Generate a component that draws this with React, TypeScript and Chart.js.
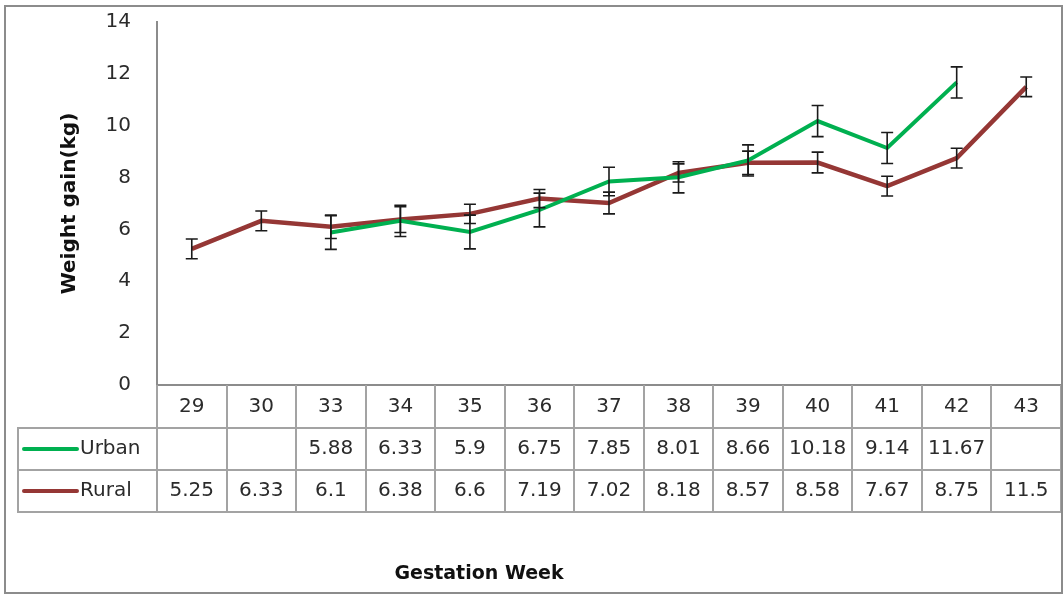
import React, { useEffect, useRef } from "react";
import { Chart, registerables } from "chart.js";

Chart.register(...registerables);

const weeks = ["29", "30", "33", "34", "35", "36", "37", "38", "39", "40", "41", "42", "43"];
const urban: (number | null)[] = [null, null, 5.88, 6.33, 5.9, 6.75, 7.85, 8.01, 8.66, 10.18, 9.14, 11.67, null];
const rural: (number | null)[] = [5.25, 6.33, 6.1, 6.38, 6.6, 7.19, 7.02, 8.18, 8.57, 8.58, 7.67, 8.75, 11.5];
const urbanErr: (number | null)[] = [null, null, 0.65, 0.6, 0.65, 0.65, 0.55, 0.6, 0.6, 0.6, 0.6, 0.6, null];
const ruralErr: (number | null)[] = [0.38, 0.38, 0.45, 0.5, 0.37, 0.35, 0.42, 0.35, 0.45, 0.4, 0.38, 0.38, 0.38];
const yTicks = [0, 2, 4, 6, 8, 10, 12, 14];

const seriesNames = ["Urban", "Rural"];
const seriesColors = ["#00B050", "#953735"];
const xTitle = "Gestation Week";
const yTitle = "Weight gain(kg)";

const FONT = "'DejaVu Sans', sans-serif";
const TEXT = "#2b2b2b";
const GRID = "#a3a3a3";
const AXIS = "#8c8c8c";

const errorBarPlugin = {
  id: "errorBars",
  afterDatasetsDraw(chart: any) {
    const { ctx } = chart;
    const x = chart.scales.x;
    const y = chart.scales.y;
    const errs = [urbanErr, ruralErr];
    const vals = [urban, rural];
    ctx.save();
    ctx.strokeStyle = "#1a1a1a";
    ctx.lineWidth = 1.6;
    vals.forEach((arr, d) => {
      arr.forEach((v, i) => {
        const e = errs[d][i];
        if (v == null || e == null) return;
        const px = x.getPixelForValue(i);
        const top = y.getPixelForValue(v + e);
        const bot = y.getPixelForValue(v - e);
        ctx.beginPath();
        ctx.moveTo(px, top);
        ctx.lineTo(px, bot);
        ctx.moveTo(px - 6, top);
        ctx.lineTo(px + 6, top);
        ctx.moveTo(px - 6, bot);
        ctx.lineTo(px + 6, bot);
        ctx.stroke();
      });
    });
    ctx.restore();
  },
};

const tablePlugin = {
  id: "dataTable",
  beforeDraw(chart: any) {
    const { ctx, width, height } = chart;
    ctx.save();
    ctx.fillStyle = "#ffffff";
    ctx.fillRect(0, 0, width, height);
    ctx.restore();
  },
  afterDraw(chart: any) {
    const { ctx, chartArea } = chart;
    const x = chart.scales.x;
    const n = weeks.length;
    const right = chartArea.right;
    const top = chartArea.bottom;
    const rowH = 42;
    const r1 = top + 43;
    const r2 = r1 + rowH;
    const r3 = r2 + rowH;
    const legendLeft = 18;
    const half = (x.getPixelForValue(1) - x.getPixelForValue(0)) / 2;

    ctx.save();
    ctx.strokeStyle = GRID;
    ctx.lineWidth = 2;
    ctx.beginPath();
    for (let i = 1; i <= n; i++) {
      const px = i === n ? right : x.getPixelForValue(i) - half;
      ctx.moveTo(Math.round(px), top);
      ctx.lineTo(Math.round(px), r3);
    }
    ctx.moveTo(chartArea.left, top);
    ctx.lineTo(chartArea.left, r3);
    ctx.moveTo(legendLeft, r1);
    ctx.lineTo(legendLeft, r3);
    [r1, r2, r3].forEach((ry) => {
      ctx.moveTo(legendLeft - 1, Math.round(ry));
      ctx.lineTo(right + 1, Math.round(ry));
    });
    ctx.stroke();

    const rows = [urban, rural];
    ctx.font = `20px ${FONT}`;
    ctx.fillStyle = TEXT;
    ctx.textBaseline = "middle";
    rows.forEach((arr, r) => {
      const cy = r1 + rowH * r + rowH / 2;
      ctx.textAlign = "center";
      arr.forEach((v, i) => {
        if (v == null) return;
        ctx.fillText(String(v), x.getPixelForValue(i), cy);
      });
      ctx.strokeStyle = seriesColors[r];
      ctx.lineWidth = 4;
      ctx.lineCap = "round";
      ctx.beginPath();
      ctx.moveTo(24, cy);
      ctx.lineTo(77, cy);
      ctx.stroke();
      ctx.textAlign = "left";
      ctx.fillText(seriesNames[r], 80, cy);
    });

    ctx.font = `bold 19px ${FONT}`;
    ctx.fillStyle = "#111";
    ctx.textAlign = "center";
    ctx.fillText(xTitle, 479, 574);

    ctx.strokeStyle = AXIS;
    ctx.lineWidth = 2;
    ctx.strokeRect(5, 6, 1057, 587);
    ctx.restore();
  },
};

export default function App() {
  const ref = useRef<HTMLCanvasElement>(null);
  useEffect(() => {
    document.body.style.margin = "0";
    const canvas = ref.current!;
    const chart = new Chart(canvas, {
      type: "line",
      data: {
        labels: weeks,
        datasets: [
          {
            label: seriesNames[0],
            data: urban,
            borderColor: seriesColors[0],
            backgroundColor: seriesColors[0],
            borderWidth: 4,
            pointRadius: 0,
            tension: 0,
          },
          {
            label: seriesNames[1],
            data: rural,
            borderColor: seriesColors[1],
            backgroundColor: seriesColors[1],
            borderWidth: 4.5,
            pointRadius: 0,
            tension: 0,
          },
        ],
      },
      options: {
        animation: false,
        responsive: false,
        devicePixelRatio: 1,
        layout: { padding: { top: 22, right: 3, left: 0, bottom: 0 } },
        plugins: {
          legend: { display: false },
          tooltip: { enabled: false },
        },
        scales: {
          x: {
            type: "category",
            offset: true,
            grid: { display: false, drawTicks: false },
            border: { display: true, color: AXIS, width: 2 },
            ticks: { font: { size: 20, family: FONT }, color: TEXT, padding: 10, maxRotation: 0, autoSkip: false },
            afterFit: (s: any) => {
              s.height = 209;
            },
          },
          y: {
            min: 0,
            max: 14,
            afterBuildTicks: (s: any) => {
              s.ticks = yTicks.map((v) => ({ value: v }));
            },
            grid: { display: false, drawTicks: false },
            border: { display: true, color: AXIS, width: 2 },
            ticks: { font: { size: 20, family: FONT }, color: TEXT, padding: 26 },
            title: {
              display: true,
              text: yTitle,
              font: { size: 20, weight: "bold", family: FONT },
              color: "#111",
              padding: { top: 58, bottom: 0 },
            },
            afterFit: (s: any) => {
              s.width = 157;
              s.paddingTop = 12;
              s.paddingBottom = 12;
            },
          },
        },
      },
      plugins: [tablePlugin, errorBarPlugin],
    } as any);
    return () => chart.destroy();
  }, []);
  return (
    <div style={{ position: "absolute", left: 0, top: 0 }}>
      <canvas ref={ref} width={1064} height={594} style={{ display: "block" }} />
    </div>
  );
}
